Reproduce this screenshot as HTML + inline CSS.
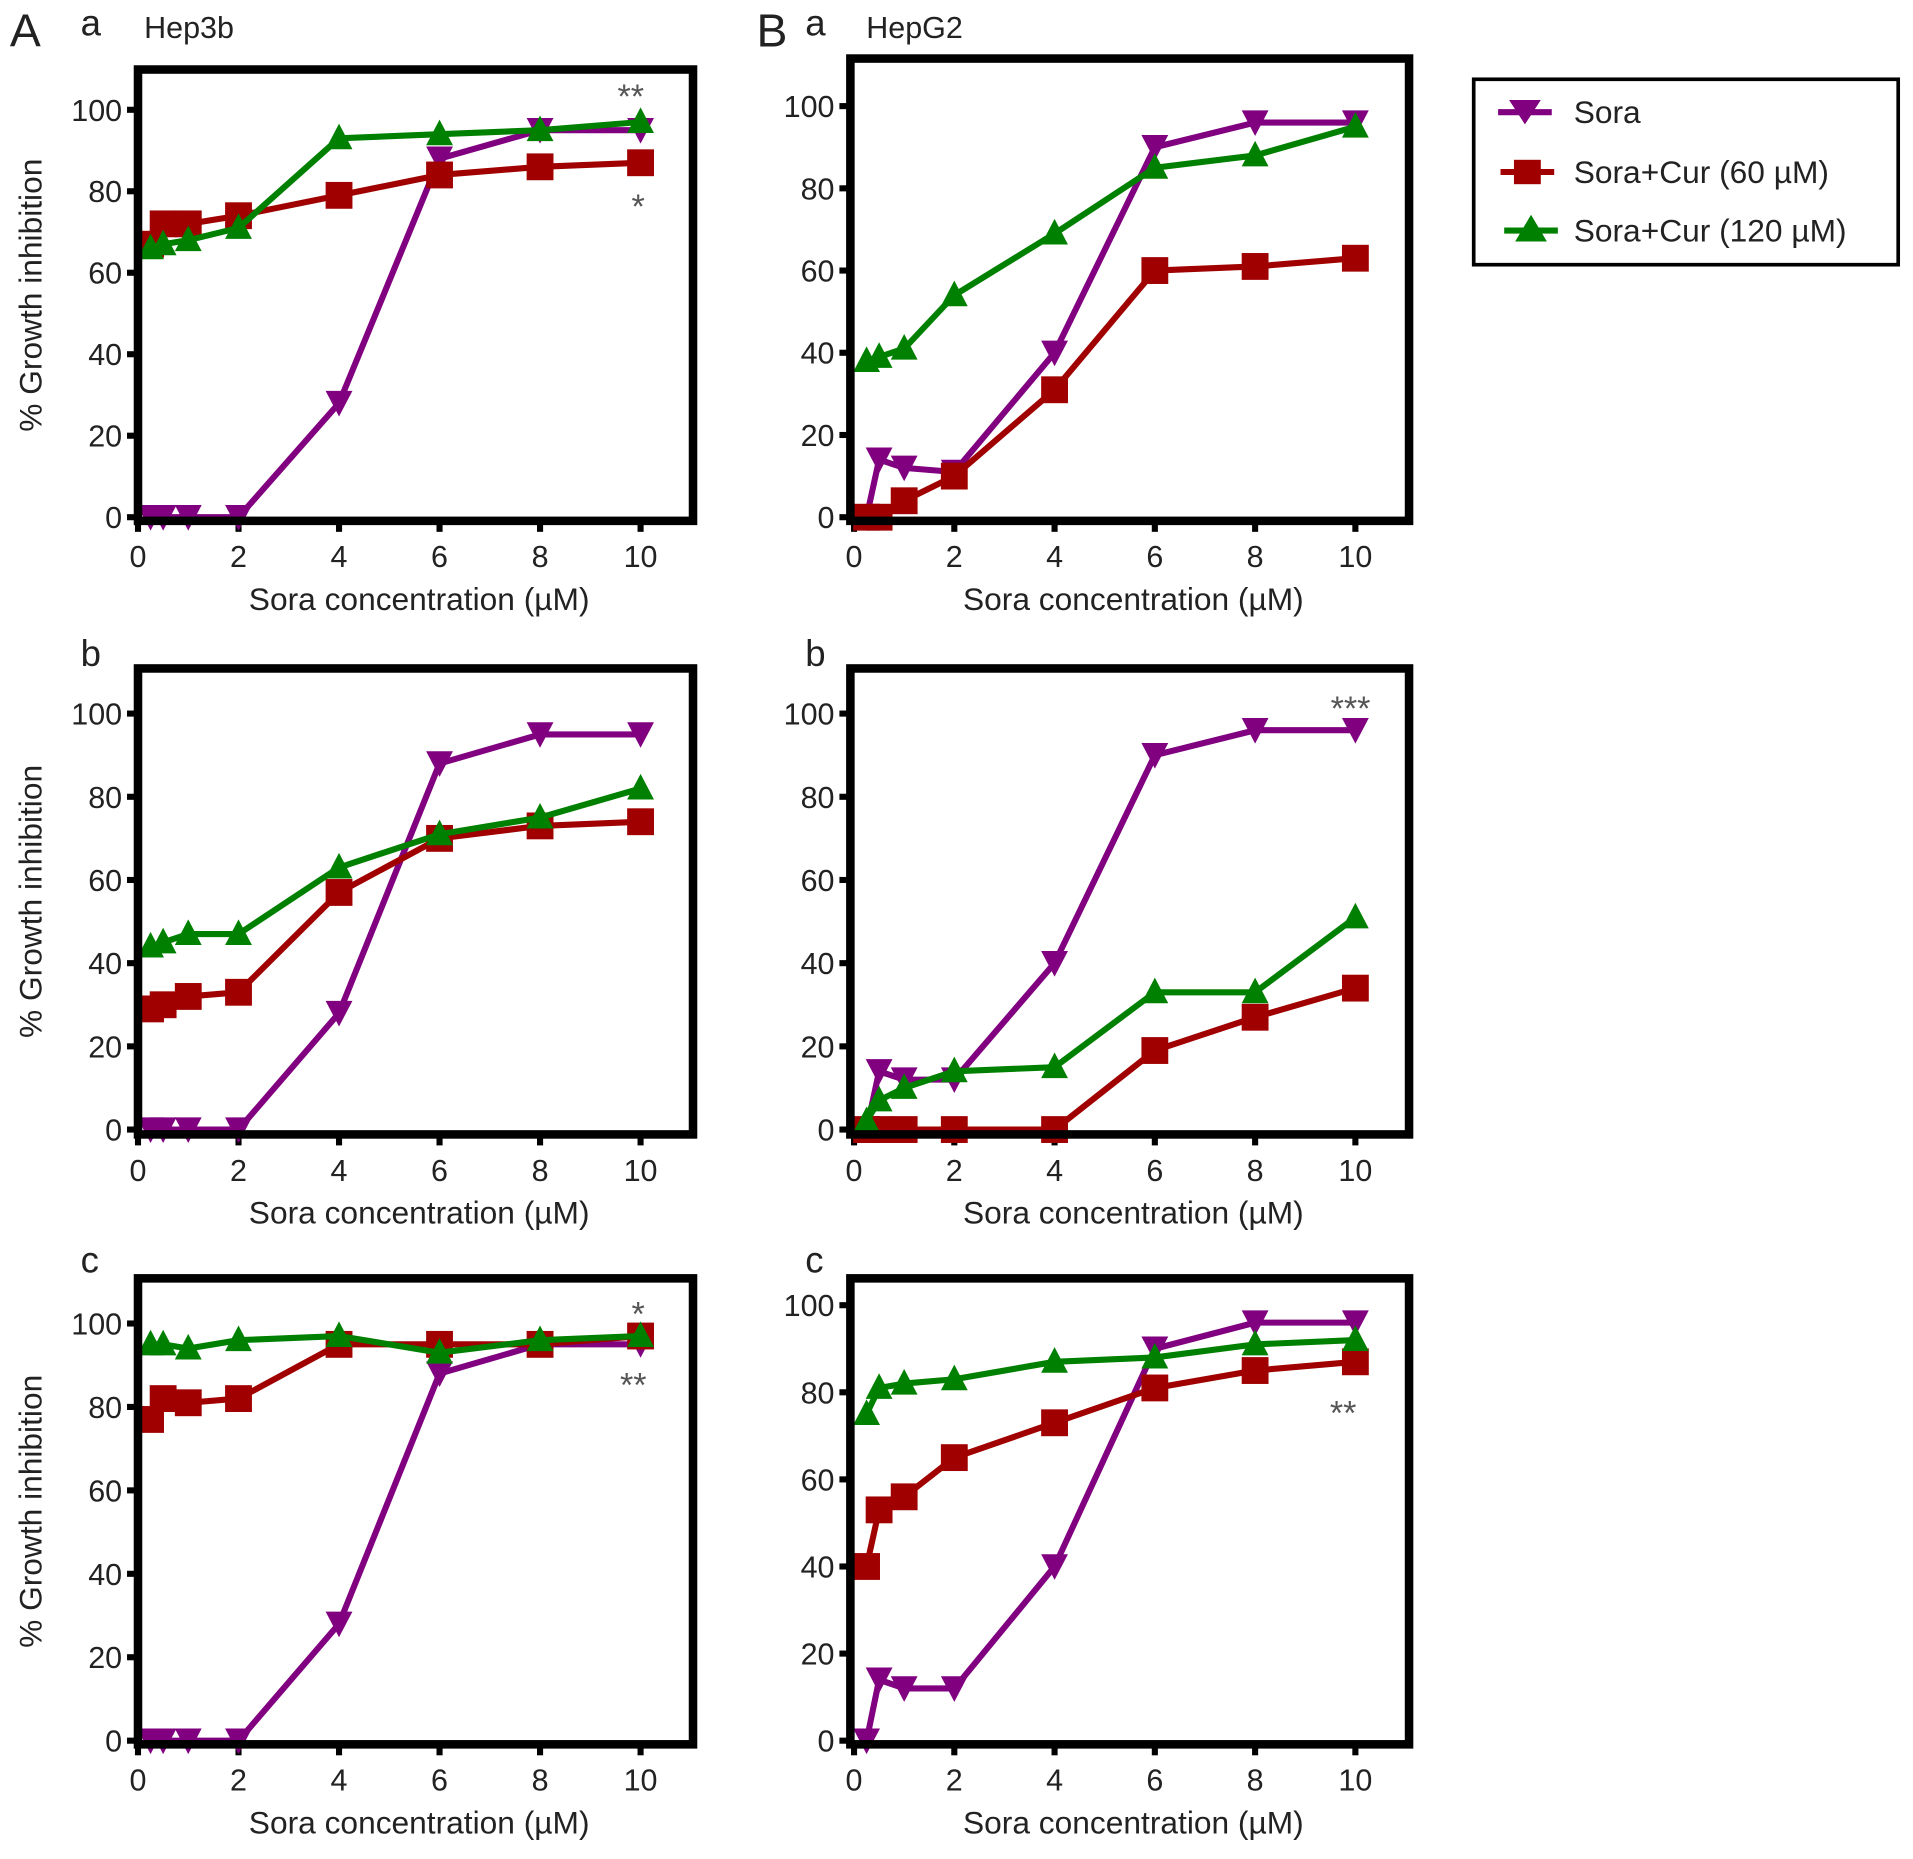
<!DOCTYPE html>
<html><head><meta charset="utf-8"><style>
html,body{margin:0;padding:0;background:#fff;}
svg{display:block;font-family:"Liberation Sans",Arial,sans-serif;}
</style></head><body>
<svg id="fig" width="1913" height="1859" viewBox="0 0 1568 1524" xmlns="http://www.w3.org/2000/svg">
<rect width="1568" height="1524" fill="#fff"/>
<g id="labels" fill="#222">
<text x="8" y="38" font-size="38">A</text>
<text x="66" y="29" font-size="30">a</text>
<text x="118" y="31" font-size="25">Hep3b</text>
<text x="620" y="38" font-size="38">B</text>
<text x="660" y="29" font-size="30">a</text>
<text x="710" y="31" font-size="25">HepG2</text>
<text x="66" y="546" font-size="30">b</text>
<text x="660" y="546" font-size="30">b</text>
<text x="66" y="1043" font-size="30">c</text>
<text x="660" y="1043" font-size="30">c</text>
</g>
<g>
<rect x="1208" y="65" width="348" height="152" fill="#fff" stroke="#000" stroke-width="3"/>
<g>
<line x1="1228" y1="92" x2="1272" y2="92" stroke="#800080" stroke-width="5"/>
<polygon points="1237,82 1263,82 1250,102" fill="#800080"/>
<text x="1290" y="101" font-size="26" fill="#222">Sora</text></g>
<g>
<line x1="1230" y1="141" x2="1274" y2="141" stroke="#a00000" stroke-width="5"/>
<rect x="1241" y="131" width="22" height="20" fill="#a00000"/>
<text x="1290" y="150" font-size="26" fill="#222">Sora+Cur (60 µM)</text></g>
<g>
<line x1="1233" y1="189" x2="1277" y2="189" stroke="#008000" stroke-width="5"/>
<polygon points="1242,198 1268,198 1255,176" fill="#008000"/>
<text x="1290" y="198" font-size="26" fill="#222">Sora+Cur (120 µM)</text></g>
</g>
</svg>
<script>
const xValues = [0.25, 0.5, 1, 2, 4, 6, 8, 10];
const xTicks = [0, 2, 4, 6, 8, 10];
const yTicks = [0, 20, 40, 60, 80, 100];
const seriesNames = ["Sora", "Sora+Cur (60 µM)", "Sora+Cur (120 µM)"];

const aaSora = [0, 0, 0, 0, 28, 88, 95, 95];
const aaCur60 = [67, 72, 72, 74, 79, 84, 86, 87];
const aaCur120 = [66, 67, 68, 71, 93, 94, 95, 97];

const abSora = [0, 0, 0, 0, 28, 88, 95, 95];
const abCur60 = [29, 30, 32, 33, 57, 70, 73, 74];
const abCur120 = [44, 45, 47, 47, 63, 71, 75, 82];

const acSora = [0, 0, 0, 0, 28, 88, 95, 95];
const acCur60 = [77, 82, 81, 82, 95, 95, 95, 97];
const acCur120 = [95, 95, 94, 96, 97, 93, 96, 97];

const baSora = [0, 14, 12, 11, 40, 90, 96, 96];
const baCur60 = [0, 0, 4, 10, 31, 60, 61, 63];
const baCur120 = [38, 39, 41, 54, 69, 85, 88, 95];

const bbSora = [0, 14, 12, 12, 40, 90, 96, 96];
const bbCur60 = [0, 0, 0, 0, 0, 19, 27, 34];
const bbCur120 = [2, 7, 10, 14, 15, 33, 33, 51];

const bcSora = [0, 14, 12, 12, 40, 90, 96, 96];
const bcCur60 = [40, 53, 56, 65, 73, 81, 85, 87];
const bcCur120 = [75, 81, 82, 83, 87, 88, 91, 92];

const NS = "http://www.w3.org/2000/svg";
const svg = document.getElementById("fig");
function mk(tag, attrs, parent){
  const e = document.createElementNS(NS, tag);
  for (const k in attrs) e.setAttribute(k, attrs[k]);
  (parent || svg).appendChild(e);
  return e;
}
const colors = ["#800080", "#a00000", "#008000"];
const keys = ["sora", "cur60", "cur120"];

function panel(id, box, x0px, x10px, y0px, y100px, series, stars){
  const g = mk("g", {});
  
  
  const xs = v => x0px + (x10px - x0px) * v / 10;
  const ys = v => y0px + (y100px - y0px) * v / 100;
  xTicks.forEach(t => {
    const px = xs(t);
    mk("line", {x1: px, y1: box.b, x2: px, y2: box.b + 9, stroke: "#000", "stroke-width": 5}, g);
    const tx = mk("text", {x: px, y: box.b + 38, "font-size": 25, "text-anchor": "middle", fill: "#222"}, g);
    tx.textContent = t;
    
    
  });
  yTicks.forEach(t => {
    const py = ys(t);
    mk("line", {x1: box.l - 9, y1: py, x2: box.l, y2: py, stroke: "#000", "stroke-width": 5}, g);
    const ty = mk("text", {x: box.l - 13, y: py + 9, "font-size": 25, "text-anchor": "end", fill: "#222"}, g);
    ty.textContent = t;
    
    
  });
  const xt = mk("text", {x: (box.l + box.r) / 2 + 3, y: box.b + 73, "font-size": 26, "text-anchor": "middle", fill: "#222"}, g);
  xt.textContent = "Sora concentration (µM)";
  
  
  if (box.l < 300){
    const cy = (box.t + box.b) / 2;
    const yt = mk("text", {x: 34, y: cy, "font-size": 26, "text-anchor": "middle", fill: "#222", transform: "rotate(-90 34 " + cy + ")"}, g);
    yt.textContent = "% Growth inhibition";
    
    
  }
  series.forEach((vals, si) => {
    const sg = mk("g", {}, g);
    
    
    const pts = vals.map((v, i) => xs(xValues[i]) + "," + ys(v)).join(" ");
    mk("polyline", {points: pts, fill: "none", stroke: colors[si], "stroke-width": 5, "stroke-linejoin": "round"}, sg);
    vals.forEach((v, i) => {
      const cx = xs(xValues[i]), cy = ys(v);
      let m;
      if (si === 0) m = mk("polygon", {points: (cx-11)+","+(cy-10)+" "+(cx+11)+","+(cy-10)+" "+cx+","+(cy+11), fill: colors[0]}, sg);
      else if (si === 1) m = mk("rect", {x: cx-11, y: cy-11, width: 22, height: 22, fill: colors[1]}, sg);
      else m = mk("polygon", {points: (cx-11)+","+(cy+9)+" "+(cx+11)+","+(cy+9)+" "+cx+","+(cy-12), fill: colors[2]}, sg);
      
      
    });
  });
  const fr = mk("rect", {x: box.l, y: box.t, width: box.r - box.l, height: box.b - box.t, fill: "none", stroke: "#000", "stroke-width": 7}, g);
  
  
  (stars || []).forEach(s => {
    const st = mk("text", {x: xs(s[0]) + (s[3]||0), y: ys(s[1]) + 12, "font-size": 28, "text-anchor": "middle", fill: "#555"}, g);
    st.textContent = s[2];
    
    
  });
}

panel("Aa", {l:113, r:568, t:57, b:427}, 113, 525, 424, 90, [aaSora, aaCur60, aaCur120], [[10,104,"**",-8],[10,77,"*",-2]]);
panel("Ab", {l:113, r:568, t:548, b:930}, 113, 525, 926, 585, [abSora, abCur60, abCur120], []);
panel("Ac", {l:113, r:568, t:1048, b:1430}, 113, 525, 1427, 1085, [acSora, acCur60, acCur120], [[10,103,"*",-2],[10,86,"**",-6]]);
panel("Ba", {l:697, r:1155, t:48, b:427}, 700, 1111, 424, 87, [baSora, baCur60, baCur120], []);
panel("Bb", {l:697, r:1155, t:548, b:930}, 700, 1111, 926, 585, [bbSora, bbCur60, bbCur120], [[10,102,"***",-4]]);
panel("Bc", {l:697, r:1155, t:1048, b:1430}, 700, 1111, 1427, 1070, [bcSora, bcCur60, bcCur120], [[10,76,"**",-10]]);
</script>
</body></html>
